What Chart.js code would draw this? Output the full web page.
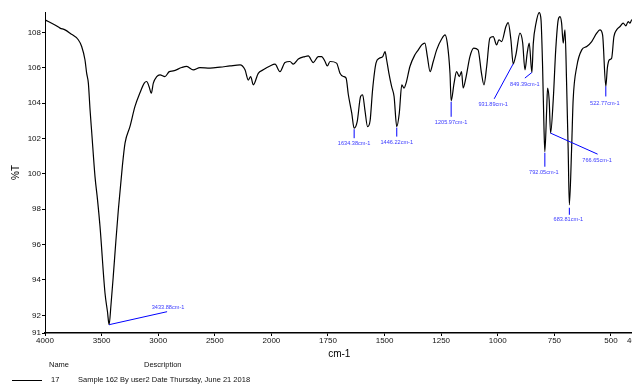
<!DOCTYPE html>
<html><head><meta charset="utf-8">
<script src="https://cdn.jsdelivr.net/npm/chart.js@4.4.1/dist/chart.umd.min.js"></script>
<style>html,body{margin:0;padding:0;overflow:hidden;background:#fff}#wrap{width:650px;height:387px;position:relative}</style>
</head><body><div id="wrap"><canvas id="c"></canvas></div>
<script>
const wavenumbers = [4000,3912,3867,3823,3779,3706,3676,3647,3632,3617,3602,3587,3558,3536,3514,3470,3448,3433.88,3417,3397,3373,3352,3317,3293,3249,3205,3161,3123,3102,3081,3061,3043,3013,2984,2940,2902,2867,2792,2748,2690,2631,2542,2454,2366,2277,2233,2204,2183,2160,2116,2072,2012,1984,1962,1940,1918,1903,1881,1852,1837,1815,1793,1778,1763,1753,1741,1712,1697,1682,1670,1660,1645,1634.38,1621,1606,1597,1587,1575,1564,1553,1538,1523,1508,1498,1491,1481,1469,1458,1446.22,1435,1424,1414,1405,1388,1366,1351,1336,1322,1311,1299,1285,1270,1248,1233,1223,1211,1205.97,1193,1182,1170,1160,1153,1141,1123,1106,1087,1072,1061,1049,1035,1020,1005,995,983,964,954,942,931.89,920,902,890,880,870,861,849.39,843,831,817,809,802,796,792.05,784,780,773,766.65,755,744,733,725,718,711,703,696,689,683.81,674,667,651,629,607,585,563,549,537,522.77,516,507,497,487,475,460,446,434,424,416,408,400];
const transmittance = [108.71,108.42,108.24,108.14,107.95,107.58,107.2,106.45,105.69,105.13,103.62,102.32,99.83,98.53,97.02,93.26,92.2,91.47,92.6,94.2,96.27,97.97,100.41,101.74,102.68,103.81,104.58,105.13,105.22,104.94,104.56,105.13,105.5,105.6,105.5,105.78,105.82,106.01,106.07,105.88,106.01,105.98,106.03,106.1,106.16,105.88,105.3,105.5,105.03,105.68,105.88,106.1,106.2,105.78,106.29,106.35,106.2,106.49,106.63,106.67,106.29,106.63,106.63,106.35,106.1,106.35,106.26,105.69,105.5,105.41,104.47,103.43,102.58,102.95,104.37,104.47,103.62,102.67,103.0,104.75,106.26,106.54,106.63,106.91,106.45,105.7,104.94,104.37,102.67,103.43,105.03,104.85,105.13,106.07,106.73,107.01,107.29,107.39,106.63,105.78,106.35,107.01,107.62,107.86,107.39,105.69,104.13,105.13,105.78,105.5,105.78,104.85,105.41,106.63,107.11,107.01,105.69,105.03,106.07,107.67,107.76,107.29,107.58,107.48,108.33,108.55,107.58,106.22,106.73,107.95,107.41,105.88,106.82,107.39,105.73,107.39,108.52,109.12,108.71,106.07,102.67,101.25,103.62,104.85,104.18,102.3,104.18,107.01,108.71,108.89,108.52,107.39,108.14,105.13,101.36,98.25,101.36,104.18,106.07,107.01,107.2,107.48,107.95,108.14,107.86,104.94,105.98,106.45,106.54,107.76,108.14,108.33,108.52,108.37,108.61,108.52,108.71,108.71];
const peakWavenumbers = [3433.88,1634.38,1446.22,1205.97,931.89,849.39,792.05,766.65,683.81,522.77];
const peakTransmittance = [91.47,102.58,102.67,104.13,106.22,105.73,101.25,102.3,98.25,104.94];
const xTickWavenumbers = [4000,3500,3000,2500,2000,1750,1500,1250,1000,750,500,400];
const yTickValues = [91,92,94,96,98,100,102,104,106,108];
const legendHeaders = ['Name','Description'];
const legendName = '17';
const legendDescription = 'Sample 162 By user2 Date Thursday, June 21 2018';

const FAMILY = '"Liberation Sans", Arial, Helvetica, sans-serif';
// split wavenumber axis: 4000-2000 compressed 2x, 2000-400 expanded
function toAxis(wn){ return wn >= 2000 ? (4000-wn)/2 : 1000 + (2000-wn); }
function fromAxis(p){ return p <= 1000 ? 4000-2*p : 2000-(p-1000); }

// label placement (pixel offsets from each peak) - styling only
const peakLabelLayout = [
  {line:[0,0,58,-13], text:[59,-17]},
  {line:[0,1,0,10], text:[0,15]},
  {line:[0,1,0,10], text:[0,16]},
  {line:[0,1,0,16], text:[0,22]},
  {line:[0,0,-19,35], text:[-20,41]},
  {line:[0,0,-7,5.6], text:[-7,12]},
  {line:[0,1,0,15], text:[-1,21]},
  {line:[0,0,47,21], text:[46.5,27]},
  {line:[0,3,0,10], text:[-1,15]},
  {line:[0,0,0,10], text:[-1,17]}
];

const peakPlugin = {
  id:'peaks',
  afterDatasetsDraw(chart){
    const {ctx, scales:{x,y}} = chart;
    ctx.save();
    ctx.strokeStyle='#0000ff'; ctx.lineWidth=1;
    ctx.fillStyle='#3a3aff';
    ctx.font='5.6px '+FAMILY;
    ctx.textAlign='center'; ctx.textBaseline='middle';
    peakWavenumbers.forEach((wn,i)=>{
      const px=x.getPixelForValue(toAxis(wn)), py=y.getPixelForValue(peakTransmittance[i]);
      const L=peakLabelLayout[i];
      ctx.beginPath(); ctx.moveTo(px+L.line[0],py+L.line[1]); ctx.lineTo(px+L.line[2],py+L.line[3]); ctx.stroke();
      ctx.fillText(wn.toFixed(2)+'cm-1', px+L.text[0], py+L.text[1]);
    });
    ctx.restore();
  }
};

const legendPlugin = {
  id:'specLegend',
  afterDraw(chart){
    const ctx = chart.ctx;
    ctx.save();
    ctx.fillStyle='#111';
    ctx.font='7.5px '+FAMILY;
    ctx.textAlign='left'; ctx.textBaseline='middle';
    ctx.fillText(legendHeaders[0], 49, 364.5);
    ctx.fillText(legendHeaders[1], 144, 364.5);
    ctx.strokeStyle='#000'; ctx.lineWidth=1;
    ctx.beginPath(); ctx.moveTo(12,380.5); ctx.lineTo(42,380.5); ctx.stroke();
    ctx.fillText(legendName, 51, 379.5);
    ctx.fillText(legendDescription, 78, 379.5);
    ctx.restore();
  }
};

new Chart(document.getElementById('c'), {
  type:'line',
  data:{datasets:[{
    data: wavenumbers.map((w,i)=>({x:toAxis(w), y:transmittance[i]})),
    borderColor:'#000', borderWidth:1.2, pointRadius:0, fill:false,
    cubicInterpolationMode:'monotone'
  }]},
  options:{
    responsive:true, maintainAspectRatio:false, animation:false,
    layout:{padding:{left:0,right:16.4,top:12,bottom:27}},
    plugins:{legend:{display:false}, tooltip:{enabled:false}},
    scales:{
      x:{type:'linear', min:0, max:2600,
        afterBuildTicks(s){ s.ticks = xTickWavenumbers.map(w=>({value:toAxis(w)})); },
        afterFit(s){ s.height = 27; },
        ticks:{callback:(v)=>String(Math.round(fromAxis(v))), autoSkip:false, maxRotation:0, minRotation:0,
               font:{size:8,family:FAMILY}, color:'#111', padding:0},
        grid:{drawOnChartArea:false, drawTicks:true, tickLength:3, color:'#000'},
        border:{display:true, color:'#000', width:1.5},
        title:{display:true, text:'cm-1', font:{size:10,family:FAMILY}, color:'#000', padding:{top:0,bottom:0}}
      },
      y:{min:91, max:109.15,
        afterBuildTicks(s){ s.ticks = yTickValues.map(v=>({value:v})); },
        afterFit(s){ s.width = 45; },
        ticks:{font:{size:8,family:FAMILY}, color:'#111', padding:1},
        grid:{drawOnChartArea:false, drawTicks:true, tickLength:3, color:'#000'},
        border:{display:true, color:'#000', width:1},
        title:{display:true, text:'%T', font:{size:10,family:FAMILY}, color:'#000', padding:{top:10,bottom:0}}
      }
    }
  },
  plugins:[peakPlugin, legendPlugin]
});
</script></body></html>
